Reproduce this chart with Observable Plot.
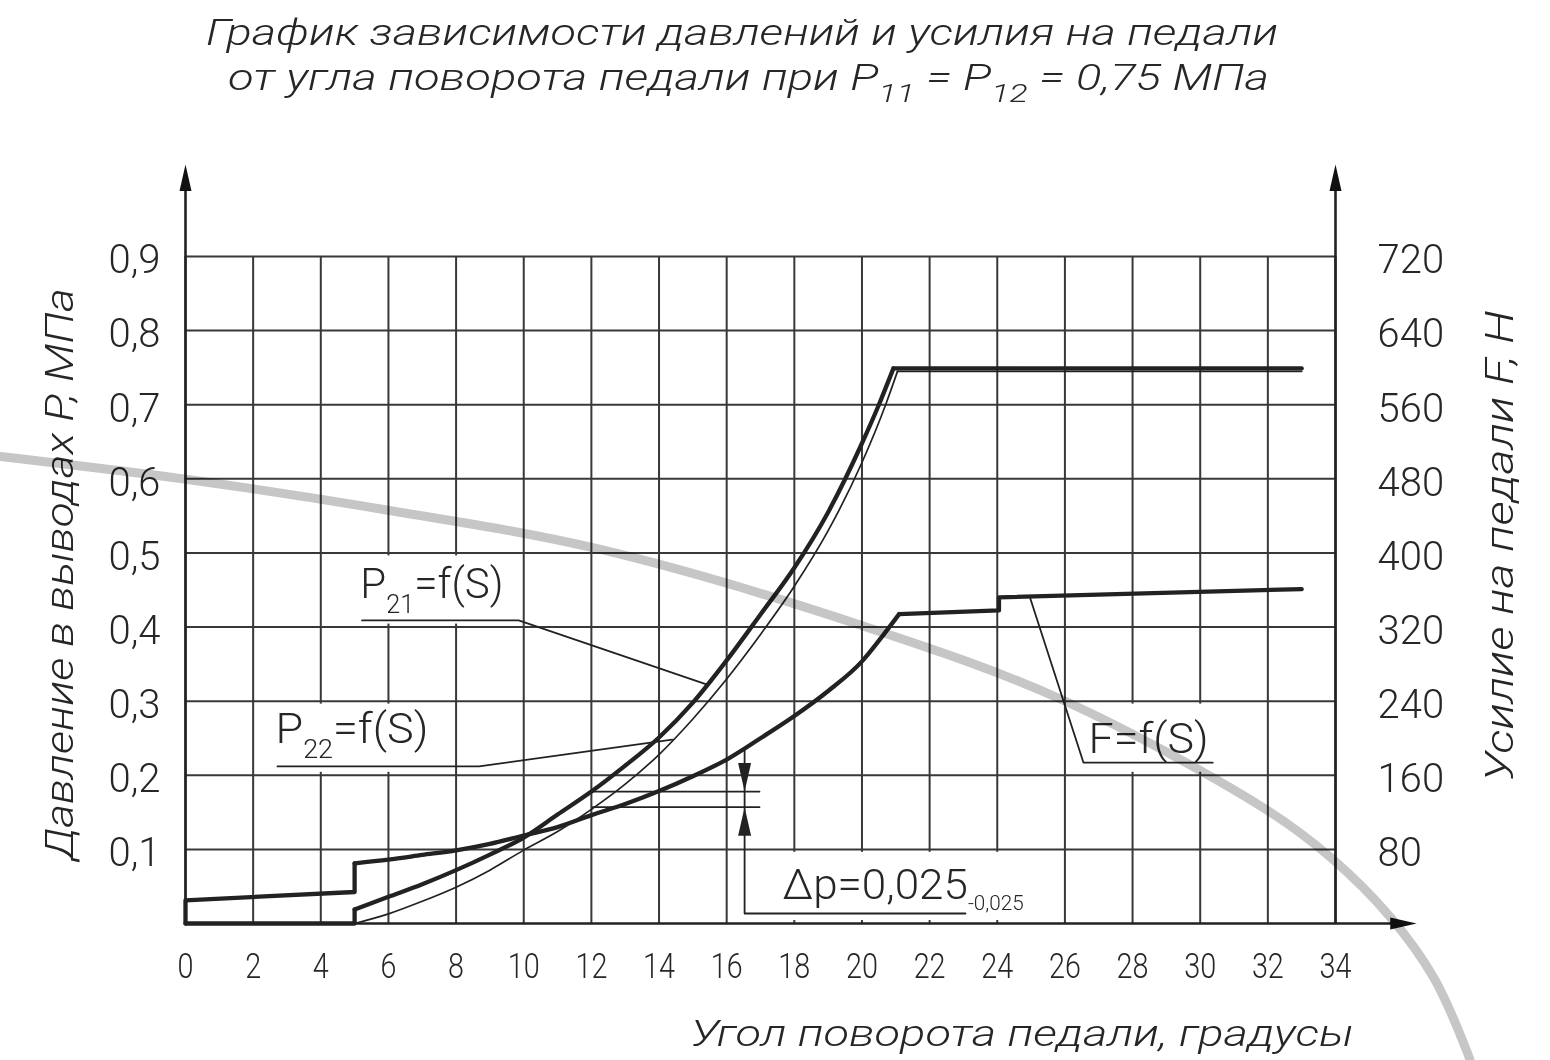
<!DOCTYPE html>
<html lang="ru">
<head>
<meta charset="utf-8">
<script src="https://cdn.jsdelivr.net/npm/d3@7"></script>
<script src="https://cdn.jsdelivr.net/npm/@observablehq/plot@0.6"></script>
<style>
  html, body { margin: 0; padding: 0; background: #fff; }
  #wrap { position: relative; width: 1550px; height: 1060px; overflow: hidden; background: #fff; }
  #chart, #title { position: absolute; left: 0; top: 0; }
</style>
</head>
<body>
<div id="wrap">
  <div id="chart"></div>
  <svg id="title" width="1550" height="110" xmlns="http://www.w3.org/2000/svg"></svg>
</div>
<script>
// ---------------- data ----------------
const titleLines = [
  "График зависимости давлений и усилия на педали",
  "от угла поворота педали при P_{11} = P_{12} = 0,75 МПа"
];
const xLabel = "Угол поворота педали, градусы";
const yLabel = "Давление в выводах Р, МПа";
const y2Label = "Усилие на педали F, Н";

const angleTicks = [0, 2, 4, 6, 8, 10, 12, 14, 16, 18, 20, 22, 24, 26, 28, 30, 32, 34];
const pressureTicks = [0.1, 0.2, 0.3, 0.4, 0.5, 0.6, 0.7, 0.8, 0.9];
const forceTicks = [80, 160, 240, 320, 400, 480, 560, 640, 720];
const newtonsPerMPa = 720 / 0.9; // right axis 720 N sits at left axis 0.9 MPa

// P21 = f(S), thick curve (MPa)
const p21Angle    = [0, 5, 5, 6, 7, 8, 9, 10, 11, 12, 13, 14, 15, 16, 17, 18, 19, 20, 20.5, 20.93, 33];
const p21Pressure = [0, 0, 0.019, 0.036, 0.053, 0.072, 0.093, 0.116, 0.147, 0.178, 0.213, 0.251, 0.298, 0.355, 0.417, 0.480, 0.555, 0.648, 0.700, 0.749, 0.749];

// P22 = f(S), thin curve (MPa)
const p22Angle    = [5, 6, 7, 8, 9, 10, 11, 12, 13, 14, 15, 16, 17, 18, 19, 20, 20.7, 21.05, 33];
const p22Pressure = [0, 0.013, 0.030, 0.049, 0.072, 0.099, 0.124, 0.154, 0.188, 0.228, 0.276, 0.330, 0.390, 0.455, 0.530, 0.622, 0.700, 0.745, 0.745];

// F = f(S), pedal force (N)
const forceAngle = [0, 0, 5, 5, 6, 7, 8, 9, 10, 11, 12, 13, 14, 15, 16, 17, 18, 19, 20, 20.6, 21.1, 24.05, 24.05, 33];
const forceN     = [0, 25, 34, 65, 69, 74, 79, 86, 95, 104, 117, 129, 143, 159, 177, 200, 224, 251, 283, 310, 334, 338, 352, 361];

// index ranges [first, last] of the smoothly curved part of each curve
const p21CurvedIdx = [2, 19];
const p22CurvedIdx = [0, 17];
const forceCurvedIdx = [3, 20];

// leader lines of the curve labels (angle, MPa)
const leaderP21 = [[5.22, 0.409], [9.85, 0.409], [15.38, 0.323]];
const leaderP22 = [[2.72, 0.212], [8.68, 0.212], [14.39, 0.248]];
const leaderF   = [[30.37, 0.217], [26.55, 0.217], [24.96, 0.441]];

// Δp dimension
const dpDimension = [[16.53, 0.236], [16.53, 0.0135], [23.06, 0.0135]];
const dpUpperExt  = [[12.03, 0.178], [16.97, 0.178]];
const dpLowerExt  = [[12.03, 0.157], [16.97, 0.157]];
const dpArrowDown = [[16.53, 0.178]];
const dpArrowUp   = [[16.53, 0.157]];

// labels: anchor (angle, MPa of baseline) and right end (angle)
const annotationText = ["P_{21}=f(S)", "P_{22}=f(S)", "F=f(S)", "Δp=0,025_{-0,025}"];
const annotationX    = [5.17, 2.66, 26.70, 17.65];
const annotationXEnd = [9.40, 7.18, 30.25, 24.78];
const annotationY    = [0.4386, 0.2442, 0.2294, 0.0337];

// white label boxes that interrupt the grid
const boxX1 = [4.2, 2.2, 26.2, 16.62];
const boxX2 = [9.8, 7.8, 31.8, 25.8];
const boxY1 = [0.404, 0.204, 0.204, 0.004];
const boxY2 = [0.496, 0.296, 0.296, 0.096];

// axis arrow tips
const axisTipAngle = 36.4;
const axisTipPressure = 1.024;

// background watermark arc (angle, MPa)
const watermarkArc = [
  [-5.470, 0.6301], [0.059, 0.5991], [5.855, 0.5586], [12.271, 0.5047], [20.166, 0.3994],
  [25.961, 0.3009], [31.993, 0.1525], [33.856, 0.0891], [35.630, 0.0081], [36.901, -0.0729],
  [37.907, -0.1754], [38.025, -0.1916]
];

// ---------------- build ----------------
const pts = (a) => a.map(([x, y]) => ({x, y}));
const series = (xs, ys) => xs.map((x, i) => ({x, y: ys[i]}));
// split a series into straight parts (before / after) and the curved part
function split(data, [a, b], name) {
  const straight = [
    ...data.slice(0, a + 1).map(d => ({...d, z: name + "-a"})),
    ...data.slice(b).map(d => ({...d, z: name + "-c"}))
  ].filter((d, i, arr) => arr.filter(e => e.z === d.z).length > 1);
  return {straight, curved: data.slice(a, b + 1)};
}
const p21 = split(series(p21Angle, p21Pressure), p21CurvedIdx, "p21");
const p22 = split(series(p22Angle, p22Pressure), p22CurvedIdx, "p22");
const force = split(forceAngle.map((x, i) => ({x, y: forceN[i] / newtonsPerMPa})), forceCurvedIdx, "f");

const leaders = [
  ...leaderP21.map(([x, y]) => ({x, y, id: "p21"})),
  ...leaderP22.map(([x, y]) => ({x, y, id: "p22"})),
  ...leaderF.map(([x, y]) => ({x, y, id: "f"})),
  ...dpDimension.map(([x, y]) => ({x, y, id: "dim"})),
  ...dpUpperExt.map(([x, y]) => ({x, y, id: "up"})),
  ...dpLowerExt.map(([x, y]) => ({x, y, id: "lo"}))
];
const annotations = annotationText.map((text, i) => ({text, x: annotationX[i], x2: annotationXEnd[i], y: annotationY[i]}));
const boxes = boxX1.map((x1, i) => ({x1, x2: boxX2[i], y1: boxY1[i], y2: boxY2[i]}));

const ink = "#222";
const gridInk = "#383838";
const font = "Roboto, 'Open Sans', 'DejaVu Sans', sans-serif";

const arrowHead = {
  draw(ctx, size) {
    const r = Math.sqrt(size / Math.PI);
    const L = r * 4.4;
    ctx.moveTo(0, 0);
    ctx.lineTo(-r, L);
    ctx.lineTo(r, L);
    ctx.closePath();
  }
};

const curveMarks = (s, width) => [
  Plot.line(s.straight, {x: "x", y: "y", z: "z", stroke: ink, strokeWidth: width}),
  Plot.line(s.curved, {x: "x", y: "y", stroke: ink, strokeWidth: width, curve: "monotone-x"})
];

const plot = Plot.plot({
  width: 1550,
  height: 1060,
  marginLeft: 185,
  marginRight: 215,
  marginTop: 256,
  marginBottom: 137,
  x: {domain: [0, 34]},
  y: {domain: [0, 0.9]},
  style: {fontFamily: font, background: "transparent", overflow: "visible", color: ink},
  marks: [
    // grid
    Plot.ruleX(angleTicks, {y1: 0, y2: 0.9, stroke: gridInk, strokeWidth: 2}),
    Plot.ruleY(pressureTicks, {x1: 0, x2: 34, stroke: gridInk, strokeWidth: 2}),
    // label boxes
    Plot.rect(boxes, {x1: "x1", x2: "x2", y1: "y1", y2: "y2", fill: "white"}),
    // axes with arrows
    Plot.ruleX([0, 34], {y1: 0, y2: axisTipPressure - 0.02, stroke: ink, strokeWidth: 2.6}),
    Plot.ruleY([0], {x1: 0, x2: axisTipAngle - 0.4, stroke: ink, strokeWidth: 2.6}),
    Plot.dot([{x: 0, y: axisTipPressure}, {x: 34, y: axisTipPressure}], {x: "x", y: "y", r: 6, symbol: arrowHead, fill: "#111"}),
    Plot.dot([{x: axisTipAngle, y: 0}], {x: "x", y: "y", r: 6, symbol: arrowHead, fill: "#111", rotate: 90}),
    // curves
    ...curveMarks(p22, 1.7),
    ...curveMarks(p21, 4.3),
    ...curveMarks(force, 4.3),
    // leaders and dimension
    Plot.line(leaders, {x: "x", y: "y", z: "id", stroke: ink, strokeWidth: 1.8}),
    Plot.dot(pts(dpArrowDown), {x: "x", y: "y", r: 6.5, symbol: arrowHead, fill: "#222", rotate: 180}),
    Plot.dot(pts(dpArrowUp), {x: "x", y: "y", r: 6.5, symbol: arrowHead, fill: "#222"}),
    // labels
    Plot.text(annotations, {x: "x", y: "y", text: "text", textAnchor: "start", lineAnchor: "bottom",
      fontSize: 42, fontWeight: 300, fill: "#262626"}),
    // axis titles
    Plot.text([yLabel], {text: d => d, frameAnchor: "left", rotate: -90, dx: -113, dy: -16,
      textAnchor: "middle", lineAnchor: "bottom", fontSize: 39, fontWeight: 300, fontStyle: "italic",
      fill: "#262626"}),
    Plot.text([y2Label], {text: d => d, frameAnchor: "right", rotate: -90, dx: 177, dy: -44,
      textAnchor: "middle", lineAnchor: "bottom", fontSize: 39, fontWeight: 300, fontStyle: "italic",
      fill: "#262626"}),
    Plot.text([xLabel], {text: d => d, frameAnchor: "bottom-right", dx: 18, dy: 122,
      textAnchor: "end", lineAnchor: "bottom", fontSize: 36, fontWeight: 300, fontStyle: "italic",
      fill: "#262626"}),
    // tick labels
    Plot.axisX({ticks: angleTicks, tickSize: 0, tickPadding: 29, fontSize: 36, fontWeight: 300, label: null, fill: "#262626"}),
    Plot.axisY({ticks: pressureTicks, tickSize: 0, tickPadding: 25, dy: 4, fontSize: 40, fontWeight: 300,
      tickFormat: d => d.toFixed(1).replace(".", ","), label: null, fill: "#262626"}),
    Plot.axisY({anchor: "right", ticks: forceTicks.map(f => f / newtonsPerMPa), tickSize: 0, tickPadding: 42, dy: 4,
      fontSize: 40, fontWeight: 300, tickFormat: p => String(Math.round(p * newtonsPerMPa)), label: null, fill: "#262626"}),
    // watermark
    Plot.line(pts(watermarkArc), {x: "x", y: "y", curve: "catmull-rom", stroke: "#c6c6c6", strokeWidth: 9,
      mixBlendMode: "multiply", clip: false})
  ]
});
document.getElementById("chart").appendChild(plot);

// ---------------- text post-processing ----------------
const NS = "http://www.w3.org/2000/svg";
function setRich(el, str, fontPx, subScale, dropPx) {
  while (el.firstChild) el.removeChild(el.firstChild);
  const parts = str.split(/(_\{[^}]*\})/).filter(s => s.length);
  let down = false;
  for (const p of parts) {
    const ts = document.createElementNS(NS, "tspan");
    if (p.startsWith("_{")) {
      ts.textContent = p.slice(2, -1);
      ts.setAttribute("font-size", (fontPx * subScale) + "px");
      ts.setAttribute("dy", dropPx);
      down = true;
    } else {
      ts.textContent = p;
      if (down) { ts.setAttribute("dy", -dropPx); down = false; }
    }
    el.appendChild(ts);
  }
}
const xs = plot.scale("x");
const fitLength = (t, len) => {
  t.setAttribute("textLength", len);
  t.setAttribute("lengthAdjust", "spacingAndGlyphs");
};
const titleLengths = new Map([[yLabel, 572], [y2Label, 471], [xLabel, 663]]);
plot.querySelectorAll("text").forEach(t => {
  const s = t.textContent;
  const i = annotationText.indexOf(s);
  if (i >= 0) {
    const a = annotations[i];
    const small = a.text.includes("_{-");
    setRich(t, a.text, 42, small ? 0.47 : 0.6, small ? 11 : 15);
    fitLength(t, xs.apply(a.x2) - xs.apply(a.x));
  } else if (titleLengths.has(s)) {
    fitLength(t, titleLengths.get(s));
  }
});
plot.querySelectorAll('g[aria-label="x-axis tick label"] text').forEach(t => {
  const tr = t.getAttribute("transform");
  if (tr) t.setAttribute("transform", tr + " scale(0.8,1)");
});

// title
const tsvg = document.getElementById("title");
const titleLeft = [206, 228], titleBase = [45, 90], titleWidth = [1072, 1041];
titleLines.forEach((line, i) => {
  const t = document.createElementNS(NS, "text");
  t.setAttribute("x", titleLeft[i]);
  t.setAttribute("y", titleBase[i]);
  t.setAttribute("font-family", font);
  t.setAttribute("font-size", 36);
  t.setAttribute("font-weight", 300);
  t.setAttribute("font-style", "italic");
  t.setAttribute("fill", "#262626");
  setRich(t, line, 36, 0.72, 12);
  fitLength(t, titleWidth[i]);
  tsvg.appendChild(t);
});
</script>
</body>
</html>
